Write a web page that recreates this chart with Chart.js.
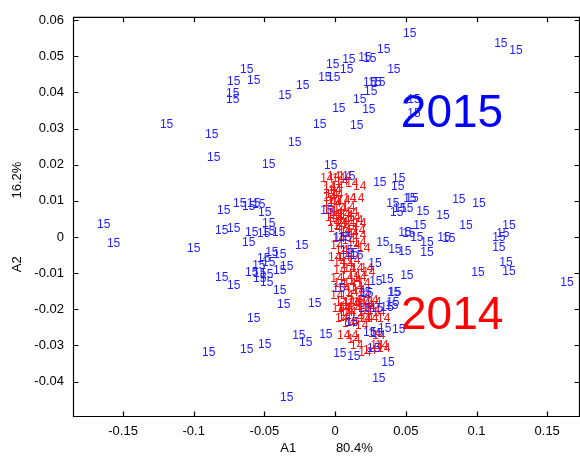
<!DOCTYPE html>
<html>
<head>
<meta charset="utf-8">
<script src="https://cdn.jsdelivr.net/npm/chart.js@4.4.1/dist/chart.umd.min.js"></script>
<style>
  html, body { margin: 0; padding: 0; background: #fff; overflow: hidden; }
</style>
</head>
<body>
<canvas id="c" width="580" height="456"></canvas>
<script>
// ── Datos: proyección A1 / A2 ─────────────────────────────
const a1Ticks = [-0.15, -0.1, -0.05, 0, 0.05, 0.1, 0.15];
const a2Ticks = [-0.04, -0.03, -0.02, -0.01, 0, 0.01, 0.02, 0.03, 0.04, 0.05, 0.06];

// [A1, A2] de cada muestra 2015 (etiqueta "15")
const pts2015 = [
  [0.048,0.0562],[0.1125,0.0534],[0.1232,0.0515],[0.0297,0.0518],[0.0163,0.0496],[0.0198,0.0493],
  [0.005,0.049],[-0.0064,0.0477],[0.0035,0.0463],[0.0368,0.0463],[-0.012,0.0441],[-0.0057,0.0441],
  [-0.0672,0.0463],[-0.0765,0.043],[-0.0623,0.0433],[-0.0772,0.0397],[-0.0772,0.038],[-0.0403,0.0391],
  [-0.0276,0.0419],[0.0198,0.0427],[0.0234,0.0427],[0.0262,0.0427],[0.0205,0.0402],[0.0127,0.038],
  [-0.0021,0.0355],[0.0191,0.0353],[0.051,0.038],[0.051,0.0342],[-0.1239,0.0311],[-0.092,0.0284],
  [-0.0156,0.0311],[0.0106,0.0309],[-0.0333,0.0262],[-0.0906,0.0218],[-0.0517,0.0201],[-0.0078,0.0196],
  [0.005,0.0168],[0.0269,0.0149],[0.0403,0.016],[0.0396,0.0138],[0.0361,0.0091],[0.0481,0.0105],
  [0.0496,0.0105],[0.041,0.0077],[0.0389,0.0066],[0.046,0.0077],[0.0573,0.0069],[0.0715,0.0058],
  [0.0828,0.0102],[0.097,0.0091],[0.0878,0.003],[0.1182,0.003],[0.1139,0.0008],[0.1111,-0.0003],
  [0.1111,-0.003],[0.1161,-0.0072],[0.1182,-0.0096],[0.0963,-0.0099],[0.1592,-0.0127],[0.0552,0.003],
  [0.0446,0.0011],[0.0474,0.0008],[0.0531,-0.0003],[0.0602,-0.0017],[0.0602,-0.0044],[0.0722,-0.0003],
  [0.0757,-0.0006],[0.029,-0.0017],[0.0375,-0.0036],[0.0446,-0.0041],[0.0234,-0.0074],[0.046,-0.0107],
  [0.0241,-0.0124],[0.0319,-0.0118],[0.0368,-0.0154],[0.0163,-0.0154],[-0.0021,-0.0143],[-0.0014,-0.0003],
  [0.0021,-0.0003],[0.0035,-0.0039],[0.0071,-0.0047],[0.0106,-0.0052],[-0.0106,0.0072],[-0.1684,0.0033],
  [-0.1614,-0.0019],[-0.1047,-0.0033],[-0.0835,0.0074],[-0.0722,0.0091],[-0.0658,0.0085],[-0.0623,0.0091],
  [-0.0587,0.0088],[-0.0545,0.0066],[-0.0849,0.0017],[-0.0765,0.0022],[-0.0637,0.0011],[-0.0552,0.0008],
  [-0.0517,0.0014],[-0.0446,0.0011],[-0.0517,0.0036],[-0.0658,-0.0017],[-0.0283,-0.0025],[-0.0495,-0.0044],
  [-0.0439,-0.005],[-0.0552,-0.0061],[-0.0587,-0.008],[-0.0517,-0.0072],[-0.0637,-0.0099],[-0.058,-0.0102],
  [-0.0531,-0.0105],[-0.0439,-0.0094],[-0.039,-0.0083],[-0.058,-0.0116],[-0.0531,-0.0127],[-0.0849,-0.0113],
  [-0.0765,-0.0135],[-0.0439,-0.0149],[-0.0411,-0.0187],[-0.0191,-0.0185],[-0.0623,-0.0226],[-0.0304,-0.0273],
  [-0.0255,-0.0292],[-0.0113,-0.027],[-0.0941,-0.032],[-0.0672,-0.0311],[-0.0545,-0.0298],[-0.039,-0.0444],
  [-0.0014,-0.0322],[0.0085,-0.0331],[0.0262,-0.0391],[0.0326,-0.0347],[0.0198,-0.0264],[0.0248,-0.0267],
  [0.0304,-0.0253],[0.0403,-0.0256],[0.0226,-0.0309],[0.0071,-0.0237],[0.0163,-0.0198],[0.0248,-0.0198],
  [0.0319,-0.0196],[0.0354,-0.019],[0.0361,-0.0182],[0.0177,-0.0157],[0.0375,-0.0154]
];

// [A1, A2] de cada muestra 2014 (etiqueta "14")
const pts2014 = [
  [-0.0106,0.016],[-0.0057,0.0168],[-0.0023,0.016],[0.0021,0.0168],[-0.0085,0.014],[-0.0035,0.014],
  [0.0127,0.014],[-0.0071,0.0118],[-0.0035,0.0118],[-0.0085,0.0094],[-0.005,0.0091],[0.0014,0.0099],
  [0.0057,0.0105],[0.0113,0.0107],[-0.0085,0.0072],[-0.0014,0.0077],[0.0049,0.008],[-0.0071,0.0052],
  [-0.0035,0.005],[0.0035,0.0058],[0.0085,0.0052],[-0.0057,0.0039],[-0.0002,0.0039],[0.0049,0.0033],
  [0.0106,0.0044],[-0.005,0.0022],[0.0021,0.0017],[0.0071,0.0022],[0.0127,0.0036],[0.012,0.0017],
  [0.0127,0.0003],[-0.0021,-0.0006],[0.0049,-0.0011],[0.0127,-0.0017],[0.0156,-0.0033],[-0.005,-0.0058],
  [0.0014,-0.0058],[-0.0014,-0.0072],[0.0035,-0.0077],[0.0085,-0.0066],[0.0106,-0.0088],[0.0177,-0.0088],
  [0.0191,-0.0099],[-0.0035,-0.0116],[0.0035,-0.0113],[0.0092,-0.0121],[0.0156,-0.0129],[0.0127,-0.0113],
  [0.0014,-0.0143],[0.0106,-0.014],[0.0071,-0.0154],[0.0156,-0.0165],[0,-0.0182],[0.0049,-0.0182],
  [0.0092,-0.0176],[0.0156,-0.0185],[0.0212,-0.0176],[0.0014,-0.0198],[0.0057,-0.0209],[0.0156,-0.0209],
  [0.0262,-0.0209],[0,-0.0226],[0.0049,-0.024],[0.0163,-0.0226],[0.0297,-0.0226],[0.0071,-0.0273],
  [0.0085,-0.0284],[0.0163,-0.032],[0.0248,-0.03],[0.0283,-0.03],[0.0233,-0.0267],[0.0262,-0.0273],
  [0.0085,-0.0185],[0.0127,-0.0182],[0.0177,-0.019],[0.0233,-0.0182],[-0.0023,-0.0198],[0.0021,-0.0196],
  [0.0092,-0.0198],[0.0191,-0.0196],[0.0226,-0.0204],[0.0106,-0.0223],[0.0177,-0.0226],[0.0021,-0.0223],
  [0.0071,-0.0237],[0.0198,-0.0314],[0.0297,-0.0309],[-0.0035,0.0066],[0.0014,0.0063],[0.0071,0.0066],
  [-0.0014,0.003],[0.0035,0.0008],[0.0085,-0.0025],[0,-0.0039],[0.0057,-0.0088],[-0.0014,-0.0129],
  [0.0035,-0.0163],[0.012,-0.0149],[-0.005,0.0127],[-0.0085,0.011],
  [-0.0085,0.0132],[0,0.0154],[0.0071,0.0146],[-0.0057,0.0061],[0.0014,0.0044],[0.0071,0.0008],
  [-0.0035,-0.0025],[0.0035,-0.0052],[-0.0014,-0.0094],[0.0085,-0.0107],[0.0057,-0.0129],[-0.0035,-0.0163],
  [0.0035,-0.0209],[0.0212,-0.0226],[0.0141,-0.0245],[0.0106,-0.03],[0.0014,-0.0273],[-0.0057,0.0099]
];

const yearText = ['2015', '2014'];
const yearA1 = [0.0465, 0.0466];
const yearA2 = [0.034, -0.022];

const BLUE = '#1f1fff';
const RED = '#ff1010';
const FONT = '"Liberation Sans", Arial, sans-serif';

// ── Dibuja las etiquetas de texto en lugar de puntos ─────────────
const textMarks = {
  id: 'textMarks',
  afterDatasetsDraw(chart) {
    const { ctx, scales: { x, y } } = chart;
    ctx.save();
    ctx.textAlign = 'left';
    ctx.textBaseline = 'middle';
    ctx.font = '12px ' + FONT;
    chart.data.datasets.forEach((ds, i) => {
      ctx.fillStyle = ds.markColor;
      chart.getDatasetMeta(i).data.forEach(pt => ctx.fillText(ds.mark, pt.x, pt.y));
    });
    // rótulos grandes de año
    ctx.font = '46px ' + FONT;
    yearText.forEach((t, i) => {
      ctx.fillStyle = i === 0 ? '#0000ff' : '#ff0000';
      ctx.fillText(t, x.getPixelForValue(yearA1[i]), y.getPixelForValue(yearA2[i]));
    });
    ctx.restore();
  }
};

// ── Caja de ejes estilo MATLAB con ticks hacia adentro ──────────
const axesBox = {
  id: 'axesBox',
  afterDraw(chart) {
    const { ctx, chartArea: { left, right, top, bottom }, scales: { x, y } } = chart;
    const L = left + 0.5, R = right - 0.5, T = top + 0.5, B = bottom - 0.5;
    ctx.save();
    ctx.strokeStyle = '#000';
    ctx.lineWidth = 1.2;
    ctx.beginPath();
    ctx.rect(L, T, R - L, B - T);
    x.ticks.forEach(t => {
      const px = Math.round(x.getPixelForValue(t.value)) + 0.5;
      ctx.moveTo(px, B); ctx.lineTo(px, B - 5);
      ctx.moveTo(px, T); ctx.lineTo(px, T + 5);
    });
    y.ticks.forEach(t => {
      const py = Math.round(y.getPixelForValue(t.value)) + 0.5;
      ctx.moveTo(L, py); ctx.lineTo(L + 5, py);
      ctx.moveTo(R, py); ctx.lineTo(R - 5, py);
    });
    ctx.stroke();
    ctx.restore();
  }
};

const fmtTick = v => String(Number(v.toFixed(3)));

new Chart(document.getElementById('c'), {
  type: 'scatter',
  data: {
    datasets: [
      { label: '2014', mark: '14', markColor: RED, data: pts2014.map(([a, b]) => ({ x: a, y: b })), pointRadius: 0 },
      { label: '2015', mark: '15', markColor: BLUE, data: pts2015.map(([a, b]) => ({ x: a, y: b })), pointRadius: 0 },
    ],
  },
  options: {
    responsive: false,
    animation: false,
    devicePixelRatio: 1,
    events: [],
    layout: { padding: { left: 0, right: 0, top: 15, bottom: 0 } },
    plugins: { legend: { display: false }, tooltip: { enabled: false } },
    scales: {
      x: {
        type: 'linear',
        min: -0.1854,
        max: 0.1732,
        grid: { display: false, drawTicks: false },
        border: { display: false },
        afterBuildTicks: s => { s.ticks = a1Ticks.map(v => ({ value: v })); },
        afterFit: s => { s.height = 39; },
        ticks: {
          padding: 7, autoSkip: false, maxRotation: 0, color: '#000',
          font: { family: FONT, size: 13 }, callback: fmtTick,
        },
        title: {
          display: true, text: 'A1           80.4%', color: '#000',
          font: { family: FONT, size: 13 }, padding: { top: 0, bottom: 0 },
        },
      },
      y: {
        type: 'linear',
        min: -0.0498,
        max: 0.0609,
        grid: { display: false, drawTicks: false },
        border: { display: false },
        afterBuildTicks: s => { s.ticks = a2Ticks.map(v => ({ value: v })); },
        afterFit: s => { s.width = 73; },
        ticks: {
          padding: 9, autoSkip: false, color: '#000',
          font: { family: FONT, size: 13 }, callback: fmtTick,
        },
        title: {
          display: true, text: 'A2                16.2%', color: '#000',
          font: { family: FONT, size: 13 }, padding: { top: 10, bottom: 0 },
        },
      },
    },
  },
  plugins: [textMarks, axesBox],
});
</script>
</body>
</html>
